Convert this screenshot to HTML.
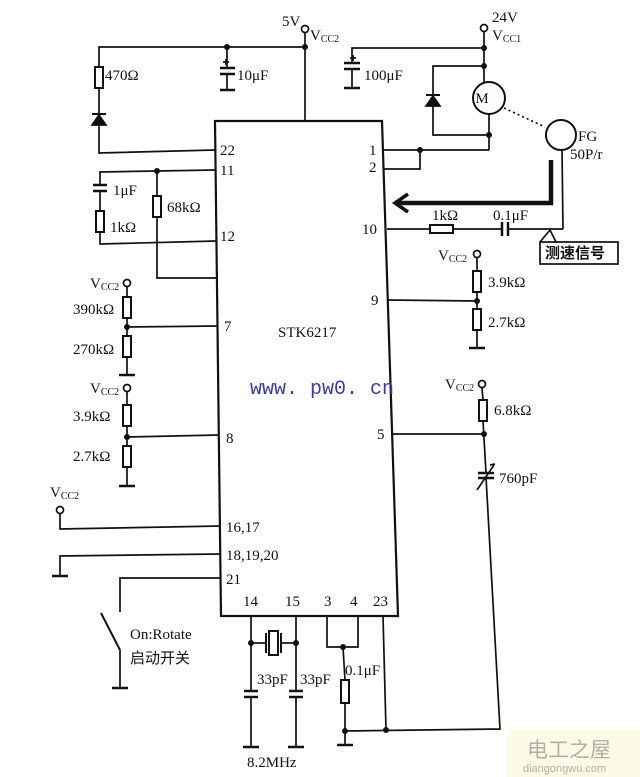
<!DOCTYPE html>
<html><head><meta charset="utf-8"><style>
html,body{margin:0;padding:0;background:#fff;}
svg{display:block;}
text{font-family:"Liberation Serif","Noto Serif CJK SC",serif;font-size:15px;fill:#111;}
.cj{font-family:"Liberation Sans","Noto Sans CJK SC",sans-serif;}
</style></head><body>
<svg width="640" height="777" viewBox="0 0 640 777" xmlns="http://www.w3.org/2000/svg">
<g stroke="#111" stroke-width="1.7" fill="none">
<polygon points="215,121 382,121 398,616 221,616" stroke-width="2.2"/>
<polyline points="99,68 99,47 305,47 305,121"/>
<line x1="305" y1="33" x2="305" y2="47"/>
<circle cx="305" cy="29" r="3.5" fill="#fff"/>
<line x1="227" y1="47" x2="227" y2="68"/>
<line x1="220" y1="68" x2="235" y2="68" stroke-width="2.5"/>
<line x1="220" y1="74" x2="235" y2="74" stroke-width="2.5"/>
<line x1="227" y1="74" x2="227" y2="90"/>
<line x1="220" y1="90" x2="235" y2="90" stroke-width="2.5"/>
<line x1="223" y1="62" x2="229" y2="62"/><line x1="226" y1="59" x2="226" y2="65"/>
<rect x="95" y="67" width="8" height="21" stroke-width="2"/>
<line x1="99" y1="88" x2="99" y2="114"/>
<line x1="92" y1="114" x2="106" y2="114" stroke-width="2"/>
<polygon points="99,115 92,125 106,125" fill="#111"/>
<polyline points="99,125 99,153 215,150"/>
<polyline points="100,184 100,172 215,170"/>
<line x1="93" y1="185" x2="107" y2="185" stroke-width="2.5"/>
<line x1="93" y1="191" x2="107" y2="191" stroke-width="2.5"/>
<line x1="100" y1="191" x2="100" y2="211"/>
<rect x="96" y="211" width="8" height="21" stroke-width="2"/>
<polyline points="100,232 100,244 216,241"/>
<line x1="157" y1="171" x2="157" y2="196"/>
<rect x="153" y="196" width="8" height="21" stroke-width="2"/>
<polyline points="157,217 157,278 217,278"/>
<circle cx="127" cy="283" r="3.5" fill="#fff"/>
<line x1="127" y1="287" x2="127" y2="297"/>
<rect x="123" y="297" width="8" height="21" stroke-width="2"/>
<line x1="127" y1="318" x2="127" y2="336"/>
<line x1="127" y1="327" x2="218" y2="326"/>
<rect x="123" y="336" width="8" height="21" stroke-width="2"/>
<line x1="127" y1="357" x2="127" y2="375"/>
<line x1="119" y1="375" x2="135" y2="375" stroke-width="2.5"/>
<circle cx="127" cy="388" r="3.5" fill="#fff"/>
<line x1="127" y1="392" x2="127" y2="405"/>
<rect x="123" y="405" width="8" height="21" stroke-width="2"/>
<line x1="127" y1="426" x2="127" y2="446"/>
<line x1="127" y1="437" x2="219" y2="435"/>
<rect x="123" y="446" width="8" height="21" stroke-width="2"/>
<line x1="127" y1="467" x2="127" y2="486"/>
<line x1="119" y1="486" x2="135" y2="486" stroke-width="2.5"/>
<circle cx="60" cy="510" r="3.5" fill="#fff"/>
<polyline points="60,514 60,529 220,526"/>
<polyline points="220,554 60,556 60,576"/>
<line x1="52" y1="576" x2="68" y2="576" stroke-width="2.5"/>
<polyline points="221,578 120,578 120,612"/>
<line x1="101" y1="613" x2="120" y2="650" stroke-width="2"/>
<line x1="120" y1="650" x2="120" y2="688"/>
<line x1="112" y1="688" x2="128" y2="688" stroke-width="2.5"/>
<line x1="251" y1="616" x2="251" y2="691"/>
<line x1="296" y1="616" x2="296" y2="691"/>
<line x1="251" y1="643" x2="266" y2="643"/>
<line x1="281" y1="643" x2="296" y2="643"/>
<line x1="266" y1="633" x2="266" y2="653" stroke-width="2"/>
<line x1="281" y1="633" x2="281" y2="653" stroke-width="2"/>
<rect x="269" y="631" width="9" height="24" stroke-width="2"/>
<line x1="244" y1="691" x2="258" y2="691" stroke-width="2.5"/>
<line x1="244" y1="697" x2="258" y2="697" stroke-width="2.5"/>
<line x1="289" y1="691" x2="303" y2="691" stroke-width="2.5"/>
<line x1="289" y1="697" x2="303" y2="697" stroke-width="2.5"/>
<line x1="251" y1="697" x2="251" y2="747"/>
<line x1="296" y1="697" x2="296" y2="747"/>
<line x1="243" y1="747" x2="259" y2="747" stroke-width="2.5"/>
<line x1="288" y1="747" x2="304" y2="747" stroke-width="2.5"/>
<polyline points="327,616 327,647 358,647 358,616"/>
<line x1="343" y1="647" x2="345" y2="680"/>
<rect x="341" y="680" width="8" height="23" stroke-width="2"/>
<line x1="345" y1="703" x2="345" y2="745"/>
<line x1="337" y1="745" x2="353" y2="745" stroke-width="2.5"/>
<line x1="383" y1="616" x2="386" y2="730"/>
<polyline points="345,731 500,729 486,477"/>
<circle cx="484" cy="28" r="3.5" fill="#fff"/>
<line x1="484" y1="32" x2="484" y2="82"/>
<polyline points="484,48 352,48 352,63"/>
<line x1="344" y1="63" x2="360" y2="63" stroke-width="2.5"/>
<line x1="344" y1="69" x2="360" y2="69" stroke-width="2.5"/>
<line x1="352" y1="69" x2="352" y2="88"/>
<line x1="344" y1="88" x2="360" y2="88" stroke-width="2.5"/>
<line x1="350" y1="58" x2="356" y2="58"/><line x1="353" y1="55" x2="353" y2="61"/>
<polyline points="484,66 433,66 433,135 489,135"/>
<line x1="426" y1="95" x2="440" y2="95" stroke-width="2"/>
<polygon points="433,96 426,106 440,106" fill="#111"/>
<circle cx="489" cy="98" r="16" stroke-width="2"/>
<line x1="489" y1="114" x2="489" y2="150"/>
<polyline points="489,150 383,150"/>
<polyline points="420,150 420,169 384,169"/>
<line x1="504" y1="108" x2="545" y2="127" stroke-dasharray="2,3"/>
<circle cx="561" cy="135" r="15" stroke-width="2"/>
<line x1="562" y1="150" x2="563" y2="229"/>
<polyline points="551,160 551,203 396,203" stroke-width="4.5"/>
<polyline points="408,194 395,203 408,212" stroke-width="3.5"/>
<line x1="387" y1="229" x2="430" y2="229"/>
<rect x="430" y="225" width="23" height="8" stroke-width="2"/>
<line x1="453" y1="229" x2="502" y2="229"/>
<line x1="502" y1="222" x2="502" y2="236" stroke-width="2.5"/>
<line x1="508" y1="222" x2="508" y2="236" stroke-width="2.5"/>
<line x1="508" y1="229" x2="563" y2="229"/>
<polyline points="540,242 550,230 556,242"/>
<rect x="540" y="242" width="78" height="22" fill="#fff"/>
<circle cx="477" cy="254" r="3.5" fill="#fff"/>
<line x1="477" y1="258" x2="477" y2="271"/>
<rect x="473" y="271" width="8" height="21" stroke-width="2"/>
<line x1="477" y1="292" x2="477" y2="309"/>
<line x1="388" y1="300" x2="477" y2="301"/>
<rect x="473" y="309" width="8" height="21" stroke-width="2"/>
<line x1="477" y1="330" x2="477" y2="348"/>
<line x1="469" y1="348" x2="485" y2="348" stroke-width="2.5"/>
<circle cx="482" cy="384" r="3.5" fill="#fff"/>
<line x1="482" y1="388" x2="483" y2="400"/>
<rect x="479" y="400" width="8" height="21" stroke-width="2"/>
<line x1="483" y1="421" x2="486" y2="473"/>
<line x1="392" y1="434" x2="484" y2="434"/>
<line x1="478" y1="473" x2="494" y2="473" stroke-width="2.5"/>
<line x1="478" y1="478" x2="494" y2="478" stroke-width="2.5"/>
<line x1="477" y1="490" x2="494" y2="465"/>
<line x1="490" y1="465" x2="495" y2="464"/>
</g>
<g fill="#111">
<circle cx="227" cy="47" r="3"/><circle cx="305" cy="47" r="3"/>
<circle cx="157" cy="171" r="3"/><circle cx="127" cy="327" r="3"/><circle cx="127" cy="437" r="3"/>
<circle cx="484" cy="48" r="3"/><circle cx="484" cy="66" r="3"/><circle cx="489" cy="135" r="3"/>
<circle cx="420" cy="150" r="3"/><circle cx="477" cy="301" r="3"/><circle cx="484" cy="434" r="3"/>
<circle cx="251" cy="643" r="3"/><circle cx="296" cy="643" r="3"/><circle cx="343" cy="647" r="3"/>
<circle cx="345" cy="731" r="3"/><circle cx="386" cy="730" r="3"/>
</g>
<text x="282" y="26" font-size="14">5V</text>
<text x="310" y="40">V<tspan font-size="10" dy="2">CC2</tspan></text>
<text x="237" y="80">10μF</text>
<text x="105" y="80">470Ω</text>
<text x="220" y="155">22</text>
<text x="220" y="175">11</text>
<text x="113" y="195">1μF</text>
<text x="110" y="232">1kΩ</text>
<text x="167" y="212">68kΩ</text>
<text x="220" y="241">12</text>
<text x="90" y="288">V<tspan font-size="10" dy="2">CC2</tspan></text>
<text x="73" y="314">390kΩ</text>
<text x="224" y="331">7</text>
<text x="73" y="354">270kΩ</text>
<text x="90" y="393">V<tspan font-size="10" dy="2">CC2</tspan></text>
<text x="73" y="421">3.9kΩ</text>
<text x="226" y="443">8</text>
<text x="73" y="461">2.7kΩ</text>
<text x="50" y="497">V<tspan font-size="10" dy="2">CC2</tspan></text>
<text x="226" y="532">16,17</text>
<text x="226" y="560">18,19,20</text>
<text x="226" y="584">21</text>
<text x="243" y="606">14</text>
<text x="285" y="606">15</text>
<text x="324" y="606">3</text>
<text x="350" y="606">4</text>
<text x="373" y="606">23</text>
<text x="130" y="639">On:Rotate</text>
<text x="130" y="663" class="cj">启动开关</text>
<text x="257" y="684">33pF</text>
<text x="300" y="684">33pF</text>
<text x="345" y="675">0.1μF</text>
<text x="247" y="767">8.2MHz</text>
<text x="278" y="337">STK6217</text>
<text x="250" y="394" style="font-family:'Liberation Mono',monospace;font-size:20px;fill:#3a3aa8">www. pw0. cn</text>
<text x="492" y="22">24V</text>
<text x="492" y="40">V<tspan font-size="10" dy="2">CC1</tspan></text>
<text x="364" y="80">100μF</text>
<text x="482" y="103" font-size="13" text-anchor="middle">M</text>
<text x="578" y="141">FG</text>
<text x="570" y="159">50P/r</text>
<text x="369" y="155">1</text>
<text x="369" y="172">2</text>
<text x="362" y="234">10</text>
<text x="432" y="220">1kΩ</text>
<text x="493" y="220">0.1μF</text>
<text x="545" y="258" class="cj" style="font-weight:bold">测速信号</text>
<text x="438" y="260">V<tspan font-size="10" dy="2">CC2</tspan></text>
<text x="488" y="287">3.9kΩ</text>
<text x="371" y="305">9</text>
<text x="488" y="327">2.7kΩ</text>
<text x="445" y="389">V<tspan font-size="10" dy="2">CC2</tspan></text>
<text x="494" y="415">6.8kΩ</text>
<text x="377" y="439">5</text>
<text x="499" y="483">760pF</text>
<rect x="507" y="730" width="133" height="47" fill="#fcfbe6"/>
<text x="527" y="757" class="cj" style="font-size:21px;fill:#b0b0a8">电工之屋</text>
<text x="523" y="772" class="cj" style="font-size:11px;fill:#b0b0a8">diangongwu.com</text>
</svg>
</body></html>
